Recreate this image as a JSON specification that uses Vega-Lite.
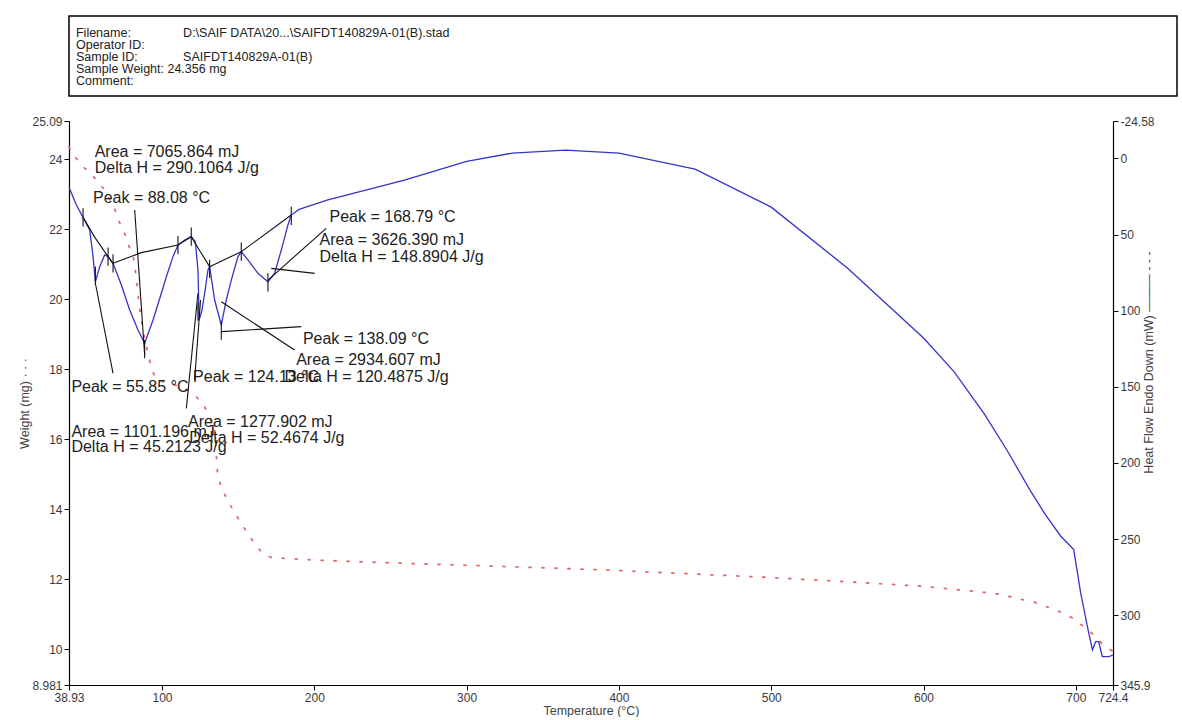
{
  "$schema": "https://vega.github.io/schema/vega-lite/v6.json",
  "background": "white",
  "padding": {"left": 18, "top": 15, "right": 4, "bottom": 0},
  "spacing": 18,
  "config": {
    "font": "Liberation Sans",
    "view": {"stroke": null},
    "axis": {
      "grid": false, "domainColor": "#000", "domainWidth": 1.2, "tickColor": "#000", "tickSize": 5,
      "labelColor": "#3a3a3a", "labelFont": "Liberation Sans", "labelFontSize": 12, "labelPadding": 2,
      "labelFlush": false, "labelOverlap": false,
      "titleFont": "Liberation Sans", "titleFontSize": 12.5, "titleFontWeight": "normal", "titleColor": "#444"
    }
  },
  "vconcat": [
    {
      "width": 1108, "height": 80,
      "view": {"stroke": "#000", "strokeWidth": 1.5},
      "data": {"values": [
        {"t": "Filename:", "c": 0.63, "r": 1},
        {"t": "D:\\SAIF DATA\\20...\\SAIFDT140829A-01(B).stad", "c": 10.3, "r": 1},
        {"t": "Operator ID:", "c": 0.63, "r": 2},
        {"t": "Sample ID:", "c": 0.63, "r": 3},
        {"t": "SAIFDT140829A-01(B)", "c": 10.3, "r": 3},
        {"t": "Sample Weight: 24.356 mg", "c": 0.63, "r": 4},
        {"t": "Comment:", "c": 0.63, "r": 5}
      ]},
      "mark": {"type": "text", "align": "left", "baseline": "middle", "fontSize": 12.5, "color": "#222"},
      "encoding": {
        "x": {"field": "c", "type": "quantitative", "scale": {"domain": [0, 100], "nice": false, "zero": false}, "axis": null},
        "y": {"field": "r", "type": "quantitative", "scale": {"domain": [-0.38, 6.24], "reverse": true, "nice": false, "zero": false}, "axis": null},
        "text": {"field": "t"}
      }
    },
    {
      "width": 1044, "height": 564,
      "encoding": {
        "x": {"field": "t", "type": "quantitative",
          "scale": {"domain": [38.93, 724.4], "nice": false, "zero": false},
          "axis": {"values": [38.93, 100, 200, 300, 400, 500, 600, 700, 724.4], "labelExpr": "'' + datum.value",
                   "title": "Temperature (°C)", "titlePadding": 1}}
      },
      "layer": [
        {
          "encoding": {
            "y": {"field": "w", "type": "quantitative",
              "scale": {"domain": [8.981, 25.09], "nice": false, "zero": false},
              "axis": {"orient": "left", "values": [8.981, 10, 12, 14, 16, 18, 20, 22, 24, 25.09], "labelExpr": "'' + datum.value",
                       "title": "Weight (mg) · · ·", "titlePadding": 0}}
          },
          "layer": [
            {
              "data": {"values": [
                {"t": 38.93, "w": 24.35}, {"t": 42.7, "w": 24.07}, {"t": 49, "w": 23.75}, {"t": 55, "w": 23.5},
                {"t": 61.5, "w": 23.17}, {"t": 68.7, "w": 22.6}, {"t": 72, "w": 22.2}, {"t": 75.3, "w": 21.9},
                {"t": 78, "w": 21.55}, {"t": 81.2, "w": 21.2}, {"t": 83.2, "w": 20.6}, {"t": 85.1, "w": 19.8},
                {"t": 88, "w": 19.0}, {"t": 93, "w": 18.03}, {"t": 96.3, "w": 17.7}, {"t": 104, "w": 17.6},
                {"t": 110.5, "w": 17.52}, {"t": 120.4, "w": 17.32}, {"t": 127, "w": 17.0}, {"t": 132, "w": 16.6},
                {"t": 134.5, "w": 16.36}, {"t": 135.6, "w": 15.6}, {"t": 136.5, "w": 15.0}, {"t": 139, "w": 14.6},
                {"t": 145, "w": 14.1}, {"t": 152, "w": 13.6}, {"t": 158, "w": 13.2}, {"t": 163, "w": 12.9},
                {"t": 167, "w": 12.7}, {"t": 172, "w": 12.62}, {"t": 200, "w": 12.55}, {"t": 250, "w": 12.47},
                {"t": 300, "w": 12.4}, {"t": 350, "w": 12.33}, {"t": 400, "w": 12.25}, {"t": 450, "w": 12.15},
                {"t": 500, "w": 12.05}, {"t": 550, "w": 11.93}, {"t": 600, "w": 11.8}, {"t": 646, "w": 11.6},
                {"t": 655.4, "w": 11.52}, {"t": 664, "w": 11.43}, {"t": 672.5, "w": 11.35}, {"t": 681.7, "w": 11.2},
                {"t": 690.2, "w": 11.06}, {"t": 698, "w": 10.89}, {"t": 702, "w": 10.75}, {"t": 708.6, "w": 10.55},
                {"t": 714, "w": 10.3}, {"t": 719, "w": 10.08}, {"t": 724, "w": 9.95}
              ]},
              "mark": {"type": "line", "color": "#e06a6a", "strokeWidth": 1.8, "strokeDash": [2, 11], "strokeCap": "round"}
            },
            {
              "data": {"values": [
                {"t": 55.8, "w": 24.21, "label": "Area = 7065.864 mJ"},
                {"t": 55.8, "w": 23.74, "label": "Delta H = 290.1064 J/g"},
                {"t": 54.7, "w": 22.88, "label": "Peak = 88.08 °C"},
                {"t": 210, "w": 22.34, "label": "Peak = 168.79 °C"},
                {"t": 203.4, "w": 21.69, "label": "Area = 3626.390 mJ"},
                {"t": 203.4, "w": 21.2, "label": "Delta H = 148.8904 J/g"},
                {"t": 192.5, "w": 18.85, "label": "Peak = 138.09 °C"},
                {"t": 188.1, "w": 18.26, "label": "Area = 2934.607 mJ"},
                {"t": 180.4, "w": 17.78, "label": "Delta H = 120.4875 J/g"},
                {"t": 40.5, "w": 17.5, "label": "Peak = 55.85 °C"},
                {"t": 120.4, "w": 17.78, "label": "Peak = 124.13 °C"},
                {"t": 40.5, "w": 16.21, "label": "Area = 1101.196 mJ"},
                {"t": 40.5, "w": 15.78, "label": "Delta H = 45.2123 J/g"},
                {"t": 117.1, "w": 16.5, "label": "Area = 1277.902 mJ"},
                {"t": 117.9, "w": 16.05, "label": "Delta H = 52.4674 J/g"}
              ]},
              "mark": {"type": "text", "align": "left", "baseline": "middle", "fontSize": 16, "color": "#222"},
              "encoding": {"text": {"field": "label"}}
            }
          ]
        },
        {
          "encoding": {
            "y": {"field": "h", "type": "quantitative",
              "scale": {"domain": [-24.58, 345.9], "reverse": true, "nice": false, "zero": false},
              "axis": {"orient": "right", "values": [-24.58, 0, 50, 100, 150, 200, 250, 300, 345.9], "labelExpr": "'' + datum.value",
                       "title": "Heat Flow Endo Down (mW) ——— - - -", "titleAngle": 270, "titlePadding": 1, "titleY": 241}}
          },
          "layer": [
            {
              "data": {"values": [
                {"t": 38.93, "h": 19.0}, {"t": 43.79, "h": 30.6}, {"t": 48.16, "h": 38.7}, {"t": 52.53, "h": 47.0},
                {"t": 54.72, "h": 64.5}, {"t": 56.25, "h": 81.0}, {"t": 59.09, "h": 71.1}, {"t": 62.37, "h": 63.4},
                {"t": 64.57, "h": 64.5}, {"t": 67.85, "h": 68.9}, {"t": 73.31, "h": 83.1}, {"t": 78.78, "h": 99.6},
                {"t": 84.25, "h": 112.7}, {"t": 88.6, "h": 121.4}, {"t": 94.1, "h": 106.1}, {"t": 99.56, "h": 88.6},
                {"t": 102.84, "h": 77.7}, {"t": 107.2, "h": 64.5}, {"t": 110.5, "h": 56.9}, {"t": 114.87, "h": 53.6},
                {"t": 119.2, "h": 51.4}, {"t": 121.87, "h": 54.7}, {"t": 123.6, "h": 73.3}, {"t": 124.4, "h": 106},
                {"t": 126.2, "h": 100}, {"t": 127.99, "h": 88.6}, {"t": 130.18, "h": 73.3}, {"t": 131.27, "h": 71.1},
                {"t": 134.55, "h": 93.0}, {"t": 138.93, "h": 109.4}, {"t": 142.2, "h": 93.0}, {"t": 145.49, "h": 79.9},
                {"t": 149.87, "h": 64.5}, {"t": 152.05, "h": 61.25}, {"t": 156.43, "h": 66.7}, {"t": 162.99, "h": 75.5},
                {"t": 169.55, "h": 81.0}, {"t": 173.92, "h": 75.5}, {"t": 178.3, "h": 60.2}, {"t": 182.68, "h": 43.7},
                {"t": 184.86, "h": 37.2}, {"t": 190, "h": 33.5}, {"t": 208.9, "h": 27.3}, {"t": 259.2, "h": 14.2},
                {"t": 300, "h": 2}, {"t": 330, "h": -3.5}, {"t": 365, "h": -5.5}, {"t": 400, "h": -3.5},
                {"t": 450, "h": 7}, {"t": 500, "h": 32}, {"t": 550, "h": 72}, {"t": 600, "h": 118},
                {"t": 620, "h": 140}, {"t": 640, "h": 168}, {"t": 655, "h": 192}, {"t": 670, "h": 218},
                {"t": 680, "h": 234}, {"t": 690, "h": 248}, {"t": 698.6, "h": 257}, {"t": 703.2, "h": 285.6},
                {"t": 707.6, "h": 307.6}, {"t": 710.9, "h": 322.9}, {"t": 713, "h": 317.4}, {"t": 715, "h": 317.4},
                {"t": 716.3, "h": 322.9}, {"t": 717.4, "h": 327.3}, {"t": 721.7, "h": 327.3}, {"t": 724.4, "h": 326.2}
              ]},
              "mark": {"type": "line", "color": "#3434c8", "strokeWidth": 1.3}
            },
            {
              "data": {"values": [
                {"s": "B1", "o": 0, "t": 48.16, "h": 38.7}, {"s": "B1", "o": 1, "t": 56, "h": 52}, {"s": "B1", "o": 2, "t": 64.57, "h": 64.5}, {"s": "B1", "o": 3, "t": 67.85, "h": 68.9},
                {"s": "B2", "o": 0, "t": 67.85, "h": 68.9}, {"s": "B2", "o": 1, "t": 86.44, "h": 61.9}, {"s": "B2", "o": 2, "t": 110.5, "h": 56.9}, {"s": "B2", "o": 3, "t": 119.2, "h": 51.4},
                {"s": "B3", "o": 0, "t": 119.2, "h": 51.4}, {"s": "B3", "o": 1, "t": 125, "h": 61}, {"s": "B3", "o": 2, "t": 131.27, "h": 71.1},
                {"s": "B4", "o": 0, "t": 131.27, "h": 71.1}, {"s": "B4", "o": 1, "t": 152.05, "h": 61.25},
                {"s": "B5", "o": 0, "t": 152.05, "h": 61.25}, {"s": "B5", "o": 1, "t": 184.86, "h": 37.2},
                {"s": "K1", "o": 0, "t": 48.16, "h": 32.7}, {"s": "K1", "o": 1, "t": 48.16, "h": 44.7},
                {"s": "K2", "o": 0, "t": 56.25, "h": 71}, {"s": "K2", "o": 1, "t": 56.25, "h": 83},
                {"s": "K3", "o": 0, "t": 64.57, "h": 58.5}, {"s": "K3", "o": 1, "t": 64.57, "h": 70.5},
                {"s": "K4", "o": 0, "t": 67.85, "h": 62.9}, {"s": "K4", "o": 1, "t": 67.85, "h": 74.9},
                {"s": "K5", "o": 0, "t": 88.6, "h": 119.2}, {"s": "K5", "o": 1, "t": 88.6, "h": 131.2},
                {"s": "K6", "o": 0, "t": 110.5, "h": 50.9}, {"s": "K6", "o": 1, "t": 110.5, "h": 62.9},
                {"s": "K7", "o": 0, "t": 119.2, "h": 45.4}, {"s": "K7", "o": 1, "t": 119.2, "h": 57.4},
                {"s": "K8", "o": 0, "t": 123.6, "h": 94.7}, {"s": "K8", "o": 1, "t": 123.6, "h": 106.7},
                {"s": "K9", "o": 0, "t": 131.27, "h": 66.6}, {"s": "K9", "o": 1, "t": 131.27, "h": 78.6},
                {"s": "K10", "o": 0, "t": 138.93, "h": 107.1}, {"s": "K10", "o": 1, "t": 138.93, "h": 119.1},
                {"s": "K11", "o": 0, "t": 152.05, "h": 55.25}, {"s": "K11", "o": 1, "t": 152.05, "h": 67.25},
                {"s": "K12", "o": 0, "t": 169.55, "h": 75.4}, {"s": "K12", "o": 1, "t": 169.55, "h": 87.4},
                {"s": "K13", "o": 0, "t": 184.86, "h": 31.8}, {"s": "K13", "o": 1, "t": 184.86, "h": 43.8},
                {"s": "L1", "o": 0, "t": 56.25, "h": 82}, {"s": "L1", "o": 1, "t": 67.85, "h": 141.2},
                {"s": "L2", "o": 0, "t": 82.06, "h": 33.9}, {"s": "L2", "o": 1, "t": 88.6, "h": 129.1},
                {"s": "L3", "o": 0, "t": 123.6, "h": 88.6}, {"s": "L3", "o": 1, "t": 115.96, "h": 164.2},
                {"s": "L4", "o": 0, "t": 125.3, "h": 93}, {"s": "L4", "o": 1, "t": 121.4, "h": 145.6},
                {"s": "L5", "o": 0, "t": 138.93, "h": 113.8}, {"s": "L5", "o": 1, "t": 191.4, "h": 110.5},
                {"s": "L6", "o": 0, "t": 138.93, "h": 94.1}, {"s": "L6", "o": 1, "t": 187.0, "h": 125.8},
                {"s": "L7", "o": 0, "t": 171.7, "h": 72.2}, {"s": "L7", "o": 1, "t": 200.2, "h": 75.5},
                {"s": "L8", "o": 0, "t": 169.6, "h": 79.9}, {"s": "L8", "o": 1, "t": 207.8, "h": 45.9}
              ]},
              "mark": {"type": "line", "color": "#111", "strokeWidth": 1.1},
              "encoding": {"detail": {"field": "s"}, "order": {"field": "o", "type": "quantitative"}}
            }
          ]
        }
      ],
      "resolve": {"scale": {"y": "independent"}}
    }
  ]
}
